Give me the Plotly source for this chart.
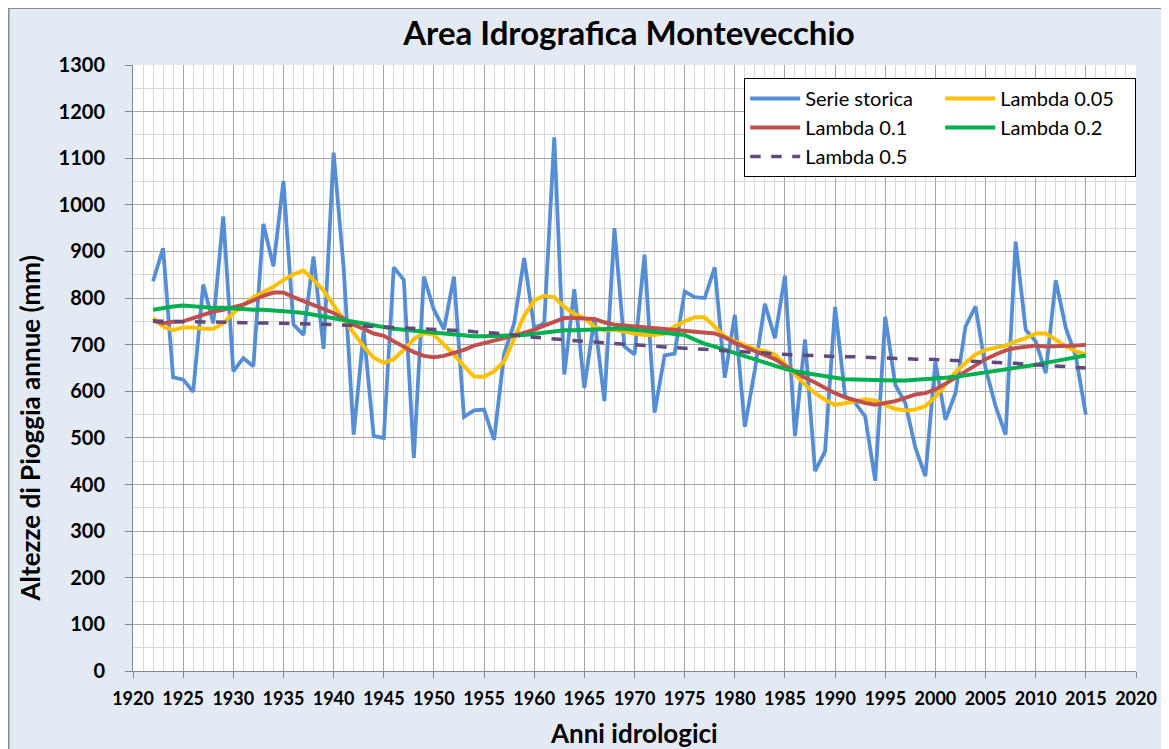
import plotly.graph_objects as go

anni = list(range(1922, 2016))

serie_storica = [836, 907, 630, 625, 599, 829, 746, 975, 643, 671, 654, 959, 868, 1051, 743, 721, 889, 691, 1112, 865,
                 507, 729, 504, 500, 866, 839, 457, 846, 775, 733, 846, 545, 559, 561, 496, 680, 746, 886, 736, 746,
                 1145, 636, 819, 607, 757, 579, 950, 696, 679, 893, 554, 677, 681, 814, 802, 800, 866, 629, 764, 524,
                 646, 788, 714, 848, 504, 711, 429, 471, 781, 590, 575, 546, 408, 760, 614, 575, 479, 418, 664, 539,
                 596, 739, 782, 650, 568, 507, 921, 732, 707, 639, 838, 736, 675, 550]

lambda_005 = [757, 739, 731, 737, 737, 734, 734, 746, 768, 786, 802, 813, 824, 839, 851, 859, 839, 816, 784, 754,
              725, 696, 672, 661, 669, 689, 712, 725, 721, 701, 679, 654, 632, 631, 643, 664, 711, 762, 795, 805,
              802, 781, 766, 757, 739, 731, 732, 727, 724, 721, 721, 724, 739, 750, 759, 759, 739, 718, 707, 698,
              691, 686, 679, 659, 636, 614, 596, 582, 571, 574, 578, 583, 580, 571, 562, 559, 561, 568, 588, 614,
              641, 661, 679, 689, 693, 698, 707, 714, 724, 724, 711, 696, 686, 679]

lambda_01 = [751, 746, 749, 750, 757, 764, 771, 775, 780, 786, 795, 805, 812, 812, 802, 793, 784, 776, 768, 756,
             743, 734, 724, 719, 708, 696, 684, 676, 673, 676, 682, 689, 698, 704, 709, 714, 719, 725, 732, 741,
             750, 757, 757, 756, 755, 748, 743, 741, 739, 738, 736, 734, 732, 731, 729, 727, 724, 716, 704, 695,
             686, 679, 669, 655, 641, 629, 619, 607, 596, 587, 580, 575, 571, 575, 579, 586, 593, 596, 604, 616,
             629, 643, 657, 669, 679, 688, 693, 696, 698, 696, 696, 696, 698, 700]

lambda_02 = [775, 779, 782, 784, 782, 781, 779, 779, 777, 776, 775, 775, 774, 771, 770, 768, 764, 761, 757, 754,
             750, 746, 742, 736, 734, 732, 730, 729, 727, 724, 721, 719, 718, 718, 718, 719, 720, 721, 724, 727,
             729, 731, 731, 732, 734, 734, 734, 734, 732, 731, 729, 727, 725, 721, 711, 702, 696, 689, 682, 675,
             668, 661, 655, 648, 643, 639, 636, 632, 629, 626, 625, 624, 623, 623, 623, 623, 624, 625, 626, 629,
             631, 634, 638, 641, 644, 648, 650, 654, 657, 661, 664, 669, 673, 677]

lambda_05 = [751, 750, 750, 749, 749, 749, 748, 748, 748, 747, 747, 747, 746, 746, 745, 745, 744, 744, 743, 742,
             741, 740, 740, 739, 738, 737, 736, 735, 734, 733, 731, 730, 728, 727, 725, 723, 720, 718, 716, 714,
             713, 711, 709, 707, 706, 704, 703, 701, 700, 698, 697, 695, 694, 692, 691, 690, 688, 687, 686, 685,
             683, 682, 680, 679, 678, 677, 676, 676, 675, 674, 674, 673, 672, 671, 671, 670, 669, 669, 668, 667,
             667, 666, 665, 664, 663, 661, 660, 658, 657, 656, 654, 653, 651, 650]

serie_nomi = ["Serie storica", "Lambda 0.05", "Lambda 0.1", "Lambda 0.2", "Lambda 0.5"]
serie_valori = [serie_storica, lambda_005, lambda_01, lambda_02, lambda_05]
colori = ["#558ED5", "#FFC000", "#C0504D", "#00B050", "#604A7B"]
spessori = [3.8, 4, 4, 4, 3.5]
tratti = ["solid", "solid", "solid", "solid", "dash"]

FONT = "Lato"

fig = go.Figure()
for nome, valori, col, w, d in zip(serie_nomi, serie_valori, colori, spessori, tratti):
    fig.add_trace(go.Scatter(x=anni, y=valori, mode="lines", name=nome,
                             line=dict(color=col, width=w, dash=d)))

# figure geometry (figure pixels; page body margin adds 8px offset)
W, H = 1161, 741
L, R, T, B = 125, 29, 57, 78
pw, ph = W - L - R, H - T - B

def px_x(p):
    return (p - L) / pw

def px_y(p):
    return (H - B - p) / ph

fig.update_layout(
    width=W, height=H,
    margin=dict(l=L, r=R, t=T, b=B, pad=0),
    paper_bgcolor="#E4EAF4",
    plot_bgcolor="white",
    font=dict(family=FONT, color="black"),
    title=dict(text="<b>Area Idrografica Montevecchio</b>", font=dict(family=FONT, size=33, color="black"),
               x=px_x(623), xref="paper", xanchor="center",
               y=1 - 25 / H, yref="container", yanchor="middle"),
    showlegend=True,
    legend=dict(orientation="h", x=1.0002, xanchor="right", y=px_y(70), yanchor="top",
                bgcolor="white", bordercolor="black", borderwidth=1,
                font=dict(family=FONT, size=20, color="black"),
                entrywidth=130, entrywidthmode="pixels", itemwidth=50,
                traceorder="normal"),
    shapes=[dict(type="rect", xref="paper", yref="paper", layer="below",
                 x0=px_x(0), x1=px_x(W + 20), y0=px_y(H + 20), y1=px_y(0),
                 fillcolor="rgba(0,0,0,0)", line=dict(color="#8C8C8C", width=2))],
    annotations=[
        dict(text="<b>Altezze di Pioggia annue (mm)</b>", textangle=-90, showarrow=False,
             xref="paper", yref="paper", x=px_x(22), y=px_y(420), xanchor="center", yanchor="middle",
             font=dict(family=FONT, size=26, color="black")),
        dict(text="<b>Anni idrologici</b>", showarrow=False,
             xref="paper", yref="paper", x=px_x(628), y=px_y(725), xanchor="center", yanchor="middle",
             font=dict(family=FONT, size=26, color="black")),
    ],
)

fig.update_xaxes(range=[1920, 2020], tick0=1920, dtick=5, showgrid=True, gridcolor="#A6A6A6", gridwidth=1,
                 minor=dict(dtick=1, showgrid=True, gridcolor="#D9D9D9", gridwidth=1),
                 showline=True, linecolor="#868686", linewidth=1,
                 ticks="outside", ticklen=6, tickcolor="#868686", tickangle=0,
                 tickfont=dict(family=FONT, size=18, color="black"), tickprefix="<b>", ticksuffix="</b>",
                 ticklabelstandoff=5, zeroline=False, fixedrange=True)
fig.update_yaxes(range=[0, 1300], tick0=0, dtick=100, showgrid=True, gridcolor="#A6A6A6", gridwidth=1,
                 minor=dict(dtick=50, showgrid=True, gridcolor="#D9D9D9", gridwidth=1),
                 showline=True, linecolor="#868686", linewidth=1,
                 ticks="outside", ticklen=7, tickcolor="#868686",
                 tickfont=dict(family=FONT, size=20, color="black"), tickprefix="<b>", ticksuffix="</b>",
                 ticklabelstandoff=16, zeroline=False, fixedrange=True)

fig.write_html("out.html",
               post_script="document.documentElement.style.overflow='hidden';document.body.style.overflow='hidden';")
